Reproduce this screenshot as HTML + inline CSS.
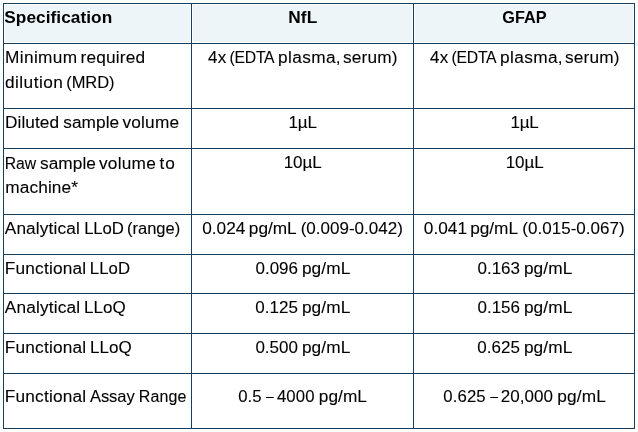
<!DOCTYPE html>
<html><head><meta charset="utf-8">
<title>Specification</title>
<style>
html,body{margin:0;padding:0;background:#fff;}
body{width:638px;height:432px;position:relative;overflow:hidden;font-family:"Liberation Sans",sans-serif;color:#000;}
.hl,.vl{position:absolute;background:#173e5c;}
.hl{left:3px;width:632px;height:1px;}
.vl{top:3px;height:426px;width:1px;}
.bg{position:absolute;background:#edf5f8;top:5px;height:37px;}
.t{position:absolute;left:0;top:0;white-space:nowrap;font-size:17px;line-height:20px;}
.t span{position:absolute;-webkit-text-stroke:0.1px #000;line-height:20px;height:20px;}
.h{font-weight:bold;}
.h span{-webkit-text-stroke:0;}
</style></head><body>
<div class="bg" style="left:5px;width:185px"></div>
<div class="bg" style="left:193px;width:219px"></div>
<div class="bg" style="left:415px;width:218px"></div>
<div class="hl" style="top:3px"></div>
<div class="hl" style="top:43px"></div>
<div class="hl" style="top:108px"></div>
<div class="hl" style="top:148px"></div>
<div class="hl" style="top:214px"></div>
<div class="hl" style="top:254px"></div>
<div class="hl" style="top:293px"></div>
<div class="hl" style="top:333px"></div>
<div class="hl" style="top:373px"></div>
<div class="hl" style="top:428px"></div>
<div class="vl" style="left:3px"></div>
<div class="vl" style="left:191px"></div>
<div class="vl" style="left:413px"></div>
<div class="vl" style="left:634px"></div>
<div class="t h" id="h1"><span style="left:4.26px;top:7px;font-size:17.25px;letter-spacing:0.049px">Specification</span></div>
<div class="t h" id="h2"><span style="left:288.23px;top:7px;font-size:17.25px;letter-spacing:0.110px">NfL</span></div>
<div class="t h" id="h3"><span style="left:502.19px;top:7px;font-size:16.25px;letter-spacing:0.050px">GFAP</span></div>
<div class="t" id="r1a"><span style="left:5.09px;top:47px;font-size:17.25px;letter-spacing:0.352px">Minimum</span> <span style="left:80.60px;top:47px;font-size:17.25px;letter-spacing:0.180px">required</span></div>
<div class="t" id="r1b"><span style="left:4.89px;top:72px;font-size:17.25px;letter-spacing:0.487px">dilution</span> <span style="left:66.20px;top:72px;font-size:16.5px;letter-spacing:-0.050px">(MRD)</span></div>
<div class="t" id="r1c2"><span style="left:207.93px;top:48px;font-size:17px;letter-spacing:0.408px">4x</span> <span style="left:229.50px;top:48px;font-size:15.75px;letter-spacing:-0.248px">(EDTA</span> <span style="left:278.00px;top:47px;font-size:17.25px;letter-spacing:0.373px">plasma,</span> <span style="left:342.91px;top:47px;font-size:17.25px;letter-spacing:0.194px">serum)</span></div>
<div class="t" id="r1c3"><span style="left:429.93px;top:48px;font-size:17px;letter-spacing:0.408px">4x</span> <span style="left:451.50px;top:48px;font-size:15.75px;letter-spacing:-0.248px">(EDTA</span> <span style="left:500.00px;top:47px;font-size:17.25px;letter-spacing:0.373px">plasma,</span> <span style="left:564.91px;top:47px;font-size:17.25px;letter-spacing:0.194px">serum)</span></div>
<div class="t" id="r2a"><span style="left:5.08px;top:112px;font-size:17.25px;letter-spacing:0.057px">Diluted</span> <span style="left:63.30px;top:112px;font-size:17.25px;letter-spacing:0.046px">sample</span> <span style="left:122.47px;top:112px;font-size:17.25px;letter-spacing:0.201px">volume</span></div>
<div class="t" id="r2c2"><span style="left:288.43px;top:113px;font-size:17px;letter-spacing:-0.052px">1µL</span></div>
<div class="t" id="r2c3"><span style="left:510.50px;top:113px;font-size:17px;letter-spacing:-0.220px">1µL</span></div>
<div class="t" id="r3a"><span style="left:4.70px;top:154px;font-size:15.75px;letter-spacing:-0.030px">Raw</span> <span style="left:40.07px;top:153px;font-size:17.25px;letter-spacing:0.039px">sample</span> <span style="left:98.92px;top:153px;font-size:17.25px;letter-spacing:0.266px">volume</span> <span style="left:159.61px;top:153px;font-size:17.25px;letter-spacing:0.900px">to</span></div>
<div class="t" id="r3b"><span style="left:5.14px;top:177px;font-size:17.25px;letter-spacing:0.147px">machine*</span></div>
<div class="t" id="r3c2"><span style="left:283.71px;top:153px;font-size:17px;letter-spacing:-0.043px">10µL</span></div>
<div class="t" id="r3c3"><span style="left:505.71px;top:153px;font-size:17px;letter-spacing:-0.043px">10µL</span></div>
<div class="t" id="r4a"><span style="left:4.74px;top:218px;font-size:17.25px;letter-spacing:0.144px">Analytical</span> <span style="left:84.15px;top:219px;font-size:16.75px;letter-spacing:-0.114px">LLoD</span> <span style="left:127.03px;top:218px;font-size:16.5px;letter-spacing:-0.006px">(range)</span></div>
<div class="t" id="r4c2"><span style="left:202.13px;top:218px;font-size:17.25px;letter-spacing:0.028px">0.024</span> <span style="left:248.80px;top:218px;font-size:17.25px;letter-spacing:-0.006px">pg/mL</span> <span style="left:300.63px;top:219px;font-size:17px;letter-spacing:0.013px">(0.009-0.042)</span></div>
<div class="t" id="r4c3"><span style="left:423.81px;top:218px;font-size:17.25px;letter-spacing:0.006px">0.041</span> <span style="left:470.21px;top:218px;font-size:17.25px;letter-spacing:-0.033px">pg/mL</span> <span style="left:522.30px;top:219px;font-size:17px;letter-spacing:0.028px">(0.015-0.067)</span></div>
<div class="t" id="r5a"><span style="left:4.82px;top:258px;font-size:17.25px;letter-spacing:0.190px">Functional</span> <span style="left:89.76px;top:259px;font-size:16.75px;letter-spacing:0.084px">LLoD</span></div>
<div class="t" id="r5c2"><span style="left:255.49px;top:259px;font-size:17px;letter-spacing:-0.015px">0.096</span> <span style="left:301.90px;top:258px;font-size:17.25px;letter-spacing:0.118px">pg/mL</span></div>
<div class="t" id="r5c3"><span style="left:477.60px;top:259px;font-size:17px;letter-spacing:-0.035px">0.163</span> <span style="left:523.90px;top:258px;font-size:17.25px;letter-spacing:0.118px">pg/mL</span></div>
<div class="t" id="r6a"><span style="left:4.83px;top:297px;font-size:17.25px;letter-spacing:0.154px">Analytical</span> <span style="left:83.90px;top:298px;font-size:17px;letter-spacing:0.055px">LLoQ</span></div>
<div class="t" id="r6c2"><span style="left:255.17px;top:298px;font-size:17px;letter-spacing:0.062px">0.125</span> <span style="left:301.90px;top:297px;font-size:17.25px;letter-spacing:0.118px">pg/mL</span></div>
<div class="t" id="r6c3"><span style="left:477.49px;top:298px;font-size:17px;letter-spacing:-0.015px">0.156</span> <span style="left:523.90px;top:297px;font-size:17.25px;letter-spacing:0.118px">pg/mL</span></div>
<div class="t" id="r7a"><span style="left:4.82px;top:337px;font-size:17.25px;letter-spacing:0.190px">Functional</span> <span style="left:89.90px;top:338px;font-size:17px;letter-spacing:0.055px">LLoQ</span></div>
<div class="t" id="r7c2"><span style="left:255.46px;top:338px;font-size:17px;letter-spacing:-0.033px">0.500</span> <span style="left:301.90px;top:337px;font-size:17.25px;letter-spacing:0.118px">pg/mL</span></div>
<div class="t" id="r7c3"><span style="left:477.17px;top:338px;font-size:17px;letter-spacing:0.062px">0.625</span> <span style="left:523.90px;top:337px;font-size:17.25px;letter-spacing:0.118px">pg/mL</span></div>
<div class="t" id="r8a"><span style="left:4.82px;top:386px;font-size:17.25px;letter-spacing:0.190px">Functional</span> <span style="left:89.99px;top:386px;font-size:16.5px;letter-spacing:-0.063px">Assay</span> <span style="left:138.85px;top:387px;font-size:16px;letter-spacing:0.086px">Range</span></div>
<div class="t" id="r8c2"><span style="left:238.34px;top:387px;font-size:16.75px;letter-spacing:-0.026px">0.5</span> <span style="left:265.96px;top:385.5px;font-size:14px;letter-spacing:0.000px">–</span> <span style="left:276.88px;top:387px;font-size:16.75px;letter-spacing:0.160px">4000</span> <span style="left:318.80px;top:386px;font-size:17.25px;letter-spacing:0.050px">pg/mL</span></div>
<div class="t" id="r8c3"><span style="left:443.27px;top:387px;font-size:16.75px;letter-spacing:0.126px">0.625</span> <span style="left:490.32px;top:385.5px;font-size:14px;letter-spacing:0.000px">–</span> <span style="left:500.80px;top:387px;font-size:17px;letter-spacing:0.022px">20,000</span> <span style="left:557.34px;top:386px;font-size:17.25px;letter-spacing:0.131px">pg/mL</span></div>
</body></html>
